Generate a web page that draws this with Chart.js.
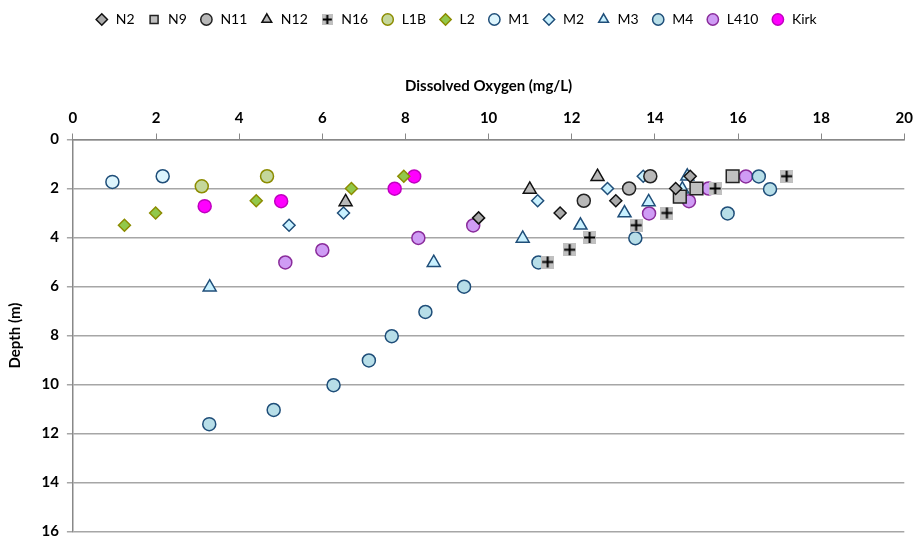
<!DOCTYPE html>
<html>
<head>
<meta charset="utf-8">
<script src="https://cdn.jsdelivr.net/npm/chart.js@4.4.1/dist/chart.umd.min.js"></script>
<style>
  body { margin: 0; background: #fff; }
</style>
</head>
<body>
<canvas id="myChart" width="919" height="542"></canvas>
<script>
// dissolved oxygen (mg/L) and depth (m) per station
const xTicks = [0, 2, 4, 6, 8, 10, 12, 14, 16, 18, 20];
const yTicks = [0, 2, 4, 6, 8, 10, 12, 14, 16];

const n2DO = [9.76, 11.72, 13.06, 14.5, 14.85];
const n2Depth = [3.2, 3.0, 2.5, 2.0, 1.5];
const n9DO = [14.6, 15.0, 15.87];
const n9Depth = [2.33, 2.0, 1.5];
const n11DO = [12.29, 13.38, 13.89];
const n11Depth = [2.5, 2.0, 1.5];
const n12DO = [6.56, 10.99, 12.62];
const n12Depth = [2.55, 2.04, 1.52];
const n16DO = [11.42, 11.95, 12.43, 13.55, 14.29, 15.45, 17.17];
const n16Depth = [5.0, 4.5, 4.0, 3.5, 3.0, 2.0, 1.5];
const l1bDO = [3.1, 4.67];
const l1bDepth = [1.91, 1.5];
const l2DO = [1.24, 1.99, 4.41, 6.7, 7.96];
const l2Depth = [3.5, 3.0, 2.5, 2.0, 1.5];
const m1DO = [0.95, 2.16];
const m1Depth = [1.73, 1.5];
const m2DO = [5.2, 6.51, 11.18, 12.86, 13.72];
const m2Depth = [3.5, 3.0, 2.5, 2.0, 1.5];
const m3DO = [3.29, 8.68, 10.82, 12.21, 13.27, 13.85, 14.66, 14.78];
const m3Depth = [6.03, 5.03, 4.04, 3.5, 3.0, 2.55, 2.03, 1.5];
const m4DO = [3.28, 4.83, 6.27, 7.12, 7.67, 8.48, 9.41, 11.2, 13.53, 15.75, 16.77, 16.5];
const m4Depth = [11.62, 11.04, 10.03, 9.02, 8.03, 7.04, 6.01, 5.02, 4.03, 3.02, 2.03, 1.51];
const l410DO = [5.11, 6.0, 8.31, 9.63, 13.86, 14.82, 15.29, 16.19];
const l410Depth = [5.02, 4.52, 4.02, 3.51, 3.02, 2.52, 2.0, 1.51];
const kirkDO = [3.17, 5.01, 7.74, 8.21];
const kirkDepth = [2.72, 2.52, 2.01, 1.51];

const toPoints = (xs, ys) => xs.map((x, i) => ({ x: x, y: ys[i] }));

// N16 marker: black plus on a grey square
function plusMark(size) {
  const c = document.createElement("canvas");
  c.width = size;
  c.height = size;
  const g = c.getContext("2d");
  const m = size / 2;
  g.fillStyle = "#c0c0c0";
  g.fillRect(0, 0, size, size);
  g.strokeStyle = "#000";
  g.lineWidth = 2;
  g.beginPath();
  g.moveTo(m, 1); g.lineTo(m, size - 1);
  g.moveTo(1, m); g.lineTo(size - 1, m);
  g.stroke();
  return c;
}
const plusBig = plusMark(13);
const plusSmall = plusMark(11);

const navy = "#1f4e79";
const olive = "#8c8c00";

function series(label, xs, ys, style, fill, border, radius) {
  return {
    label: label,
    data: toPoints(xs, ys),
    pointStyle: style,
    backgroundColor: fill,
    borderColor: border,
    borderWidth: 1.5,
    pointRadius: radius,
    pointHoverRadius: radius,
    showLine: false,
  };
}

const datasets = [
  series("N2", n2DO, n2Depth, "rectRot", "#aaaaaa", "#111", 6),
  series("N9", n9DO, n9Depth, "rect", "#c0c0c0", "#222", 9),
  series("N11", n11DO, n11Depth, "circle", "#b8b8b8", "#222", 6.5),
  series("N12", n12DO, n12Depth, "triangle", "#b8b8b8", "#111", 7.5),
  series("N16", n16DO, n16Depth, plusBig, "#c0c0c0", "#000", 6),
  series("L1B", l1bDO, l1bDepth, "circle", "#c4d79b", olive, 6.5),
  series("L2", l2DO, l2Depth, "rectRot", "#92c84a", olive, 6),
  series("M1", m1DO, m1Depth, "circle", "#ddf5fd", navy, 6.5),
  series("M2", m2DO, m2Depth, "rectRot", "#c9f1ff", navy, 6),
  series("M3", m3DO, m3Depth, "triangle", "#c9f1ff", navy, 7.5),
  series("M4", m4DO, m4Depth, "circle", "#b7dee8", navy, 6.5),
  series("L410", l410DO, l410Depth, "circle", "#cf9cf5", "#8a2c9b", 6.5),
  series("Kirk", kirkDO, kirkDepth, "circle", "#ff00ff", "#c000c0", 6.5),
];

// extra room under the legend
const legendGap = {
  id: "legendGap",
  beforeInit(chart) {
    const fit = chart.legend.fit;
    chart.legend.fit = function () {
      fit.bind(chart.legend)();
      this.height += 41;
    };
  },
};

const config = {
  type: "scatter",
  data: { datasets: datasets },
  options: {
    responsive: false,
    animation: false,
    layout: { padding: { left: 1.5, right: 9, top: 0, bottom: 10 } },
    plugins: {
      legend: {
        position: "top",
        labels: {
          usePointStyle: true,
          boxHeight: 8,
          padding: 12.5,
          color: "#000",
          font: { family: "Lato", size: 14 },
          generateLabels(chart) {
            const items = Chart.defaults.plugins.legend.labels.generateLabels(chart);
            items.forEach((it) => {
              if (it.text === "N16") it.pointStyle = plusSmall;
            });
            return items;
          },
        },
      },
      tooltip: { enabled: false },
    },
    scales: {
      x: {
        type: "linear",
        position: "top",
        min: 0,
        max: 20,
        afterBuildTicks(axis) {
          axis.ticks = xTicks.map((v) => ({ value: v }));
        },
        title: {
          display: true,
          text: "Dissolved Oxygen (mg/L)",
          color: "#000",
          font: { family: "Lato", size: 15, weight: "bold" },
          padding: { top: 0, bottom: 8 },
        },
        ticks: {
          color: "#000",
          font: { family: "Lato", size: 15, weight: "bold" },
          padding: 6,
        },
        grid: { drawOnChartArea: false, color: "#888", tickLength: 6 },
        border: { color: "#888", width: 1.5 },
      },
      y: {
        type: "linear",
        reverse: true,
        min: 0,
        max: 16,
        afterBuildTicks(axis) {
          axis.ticks = yTicks.map((v) => ({ value: v }));
        },
        afterFit(axis) {
          // let the "16" label hang below the plot like the original
          axis.paddingBottom = 0;
        },
        title: {
          display: true,
          text: "Depth (m)",
          color: "#000",
          font: { family: "Lato", size: 15, weight: "bold" },
          padding: { top: 5, bottom: 9 },
        },
        ticks: {
          color: "#000",
          font: { family: "Lato", size: 15, weight: "bold" },
          padding: 8,
        },
        grid: { color: "#a6a6a6", lineWidth: 1.5, tickLength: 6 },
        border: { color: "#888", width: 1.5 },
      },
    },
  },
  plugins: [legendGap],
};

const myChart = new Chart(document.getElementById("myChart"), config);
</script>
</body>
</html>
